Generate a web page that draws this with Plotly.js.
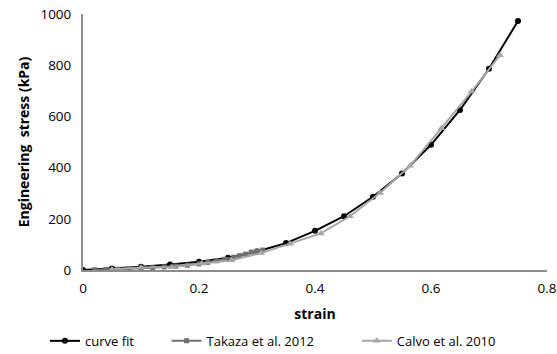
<!DOCTYPE html>
<html><head><meta charset="utf-8">
<script src="https://cdn.plot.ly/plotly-3.0.1.min.js"></script>
<style>html,body{margin:0;padding:0;background:#fff}#chart{width:557px;height:354px}</style>
</head><body><div id="chart"></div>
<script>
const fitX = [0,0.05,0.1,0.15,0.2,0.25,0.3,0.35,0.4,0.45,0.5,0.55,0.6,0.65,0.7,0.75];
const fitY = [0,6,13,21,32,48,72,105,153,210,286,377,489,625,786,973];
const takX = [0.02,0.04,0.06,0.08,0.10,0.12,0.14,0.16,0.18,0.20,0.215,0.23,0.245,0.26,0.27,0.28,0.29,0.30,0.31];
const takY = [1,2,3,5,7,9,12,15,19,24,30,36,42,50,56,62,70,74,78];
const calX = [0.05,0.10,0.153,0.205,0.256,0.307,0.357,0.41,0.46,0.512,0.564,0.618,0.67,0.719];
const calY = [3,10,12,25,38,66,103,143,210,301,407,554,697,839];
const xTicks = [0,0.2,0.4,0.6,0.8];
const yTicks = [0,200,400,600,800,1000];

const font = "Open Sans, Liberation Sans, sans-serif";
const traces = [
  {x: fitX, y: fitY, name: "curve fit", mode: "lines+markers", legend: "legend",
   line: {color: "#000000", width: 2}, marker: {symbol: "circle", size: 6, color: "#000000"}},
  {x: takX, y: takY, name: "Takaza et al. 2012", mode: "lines+markers", legend: "legend2",
   line: {color: "#6f6f6f", width: 2}, marker: {symbol: "square", size: 5, color: "#6f6f6f"}},
  {x: calX, y: calY, name: "Calvo et al. 2010", mode: "lines+markers", legend: "legend3",
   line: {color: "#a5a5a5", width: 2}, marker: {symbol: "triangle-up", size: 7, color: "#a5a5a5"}}
];
const legBase = {orientation: "h", yref: "container", y: 0.037, yanchor: "middle", xanchor: "left",
  bgcolor: "rgba(0,0,0,0)", font: {family: font, size: 13, color: "#000"}};
const layout = {
  width: 557, height: 354,
  margin: {l: 83, r: 10, t: 14, b: 84, autoexpand: false},
  paper_bgcolor: "#fff", plot_bgcolor: "#fff",
  font: {family: font, size: 13, color: "#000"},
  showlegend: true,
  legend: Object.assign({}, legBase, {x: -0.082}),
  legend2: Object.assign({}, legBase, {x: 0.18}),
  legend3: Object.assign({}, legBase, {x: 0.59}),
  xaxis: {range: [0, 0.8], tickvals: xTicks, ticktext: xTicks.map(String), showgrid: false, zeroline: false,
          automargin: false,
          showline: true, linecolor: "#8c8c8c", linewidth: 2, ticks: "", ticklen: 0,
          ticklabelstandoff: 5,
          tickfont: {size: 13.5},
          title: {text: "<b>strain</b>", font: {family: font, size: 14}, standoff: 13}},
  yaxis: {range: [0, 1000], tickvals: yTicks, ticktext: yTicks.map(String), showgrid: false, zeroline: false,
          automargin: false,
          showline: true, linecolor: "#8c8c8c", linewidth: 2, ticks: "",
          ticklabelstandoff: 7,
          tickfont: {size: 13.5},
          title: {text: "<b>Engineering  stress (kPa)</b>", font: {family: font, size: 14}, standoff: 8}}
};
Plotly.newPlot("chart", traces, layout, {staticPlot: true, displayModeBar: false});
</script></body></html>
